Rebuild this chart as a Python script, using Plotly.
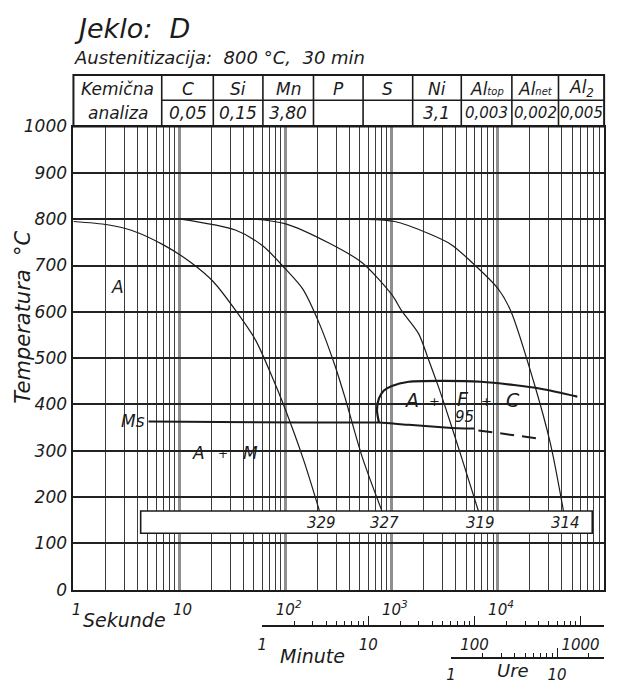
import numpy as np
import plotly.graph_objects as go

W, H = 619, 693
PX_L, PX_R, PX_T, PX_B = 69, 604, 120, 597   # plot area in pixels
DEC = (PX_R - PX_L) / 5.0                     # px per decade

# ---------------- data ----------------
# cooling curves: time (s), temperature (°C)
c1_t = [1, 2.1, 3.5, 7.1, 12.7, 20.8, 34, 52, 76, 94, 147, 208]
c1_T = [795, 788, 776, 744, 707, 665, 602, 539, 455, 403, 281, 170]
c2_t = [10.2, 34, 61, 100, 144, 208, 293, 364, 525, 807]
c2_T = [800, 776, 742, 692, 650, 574, 482, 413, 287, 170]
c3_t = [40, 49, 100, 258, 525, 1000, 1240, 1786, 2215, 2750, 3150, 4520, 6540]
c3_T = [800, 800, 790, 748, 706, 637, 602, 553, 497, 438, 398, 287, 170]
c4_t = [341, 525, 1067, 2218, 3640, 5970, 10000, 13200, 21700, 31300, 41400]
c4_T = [800, 800, 795, 769, 745, 702, 650, 602, 449, 314, 170]
hardness = ["329", "327", "319", "314"]

# Ms line
ms_t = [5.1, 144, 756, 1442, 3410, 5970]
ms_T = [363, 361, 361, 356, 350, 348]
ms_dash_t = [6540, 26900]
ms_dash_T = [344, 325]

# start of A + F + C transformation
afc_t = [756, 724, 756, 841, 1000, 1442, 2933, 6930, 14100, 25200, 55900]
afc_T = [361, 388, 413, 430, 440, 449, 451, 449, 442, 434, 417]

# hardness box extent
box_t = [4.3, 77300]
box_T = [122, 170]

# chemical analysis table
elements = ["C", "Si", "Mn", "P", "S", "Ni",
            "Al<span style='font-size:10px'>top</span>",
            "Al<span style='font-size:10px'>net</span>",
            "Al<sub>2</sub>"]
contents = ["0,05", "0,15", "3,80", "", "", "3,1", "0,003", "0,002", "0,005"]

# axes ticks
temp_ticks = list(range(0, 1001, 100))
sec_ticks = [1, 10, 100, 1000, 10000, 100000]
sec_labels = ["1", "10", "10<sup>2</sup>", "10<sup>3</sup>", "10<sup>4</sup>", "10<sup>5</sup>"]
min_ticks = [1, 10, 100, 1000]
min_labels = ["1", "10", "100", "1000"]
hour_ticks = [1, 10]
hour_labels = ["1", "10"]

# ---------------- styling helpers ----------------
FONT = "DejaVu Sans"
INK = "#1b1b1b"


def fx(px):
    return px / W


def fy(py):
    return 1 - py / H


fig = go.Figure()

thin = dict(color=INK, width=1.2, shape="spline", smoothing=0.8)
for t, T in [(c1_t, c1_T), (c2_t, c2_T), (c3_t, c3_T), (c4_t, c4_T)]:
    fig.add_trace(go.Scatter(x=t, y=T, mode="lines", line=thin,
                             hoverinfo="skip", showlegend=False))

fig.add_trace(go.Scatter(x=ms_t, y=ms_T, mode="lines",
                         line=dict(color=INK, width=2, shape="spline", smoothing=0.6),
                         hoverinfo="skip", showlegend=False))
fig.add_trace(go.Scatter(x=ms_dash_t, y=ms_dash_T, mode="lines",
                         line=dict(color=INK, width=2, dash="14px,8px"),
                         hoverinfo="skip", showlegend=False))
fig.add_trace(go.Scatter(x=afc_t, y=afc_T, mode="lines",
                         line=dict(color=INK, width=2.2, shape="spline", smoothing=0.8),
                         hoverinfo="skip", showlegend=False))

# dummy traces so that the minute / hour scales are drawn
fig.add_trace(go.Scatter(x=[1, 10], y=[None, None], xaxis="x2", yaxis="y",
                         mode="lines", hoverinfo="skip", showlegend=False))
fig.add_trace(go.Scatter(x=[1, 10], y=[None, None], xaxis="x3", yaxis="y",
                         mode="lines", hoverinfo="skip", showlegend=False))

shapes = []
# hardness box (white, covers grid)
shapes.append(dict(type="rect", xref="x", yref="y",
                   x0=box_t[0], x1=box_t[1], y0=box_T[0], y1=box_T[1],
                   fillcolor="white", line=dict(color=INK, width=1.6), layer="above"))

# table
tab_top, tab_mid, tab_bot = 67, 93, 120
col_edges = [69, 158, 210, 260, 311, 361, 411, 460, 511, 558, 604]
shapes.append(dict(type="rect", xref="paper", yref="paper",
                   x0=fx(col_edges[0]), x1=fx(col_edges[-1]), y0=fy(tab_bot), y1=fy(tab_top),
                   line=dict(color=INK, width=2), fillcolor="rgba(0,0,0,0)"))
for xe in col_edges[1:-1]:
    shapes.append(dict(type="line", xref="paper", yref="paper",
                       x0=fx(xe), x1=fx(xe), y0=fy(tab_bot), y1=fy(tab_top),
                       line=dict(color=INK, width=1.6)))
shapes.append(dict(type="line", xref="paper", yref="paper",
                   x0=fx(col_edges[1]), x1=fx(col_edges[-1]), y0=fy(tab_mid), y1=fy(tab_mid),
                   line=dict(color=INK, width=1.6)))

ann = []


def txt(text, x, y, size, xref="paper", yref="paper", xanchor="center", yanchor="middle", angle=0):
    ann.append(dict(text=text, x=x, y=y, xref=xref, yref=yref, showarrow=False,
                    xanchor=xanchor, yanchor=yanchor, textangle=angle,
                    font=dict(family=FONT, size=size, color=INK, style="italic")))


# titles
txt("Jeklo:  D", fx(68), fy(19), 27, xanchor="left")
txt("Austenitizacija:  800 °C,  30 min", fx(68), fy(49), 18, xanchor="left")

# table text
cx0 = (col_edges[0] + col_edges[1]) / 2
txt("Kemična", fx(cx0), fy((tab_top + tab_mid) / 2 + 1), 17)
txt("analiza", fx(cx0), fy((tab_mid + tab_bot) / 2), 17)
for i, (el, val) in enumerate(zip(elements, contents)):
    cx = (col_edges[i + 1] + col_edges[i + 2]) / 2
    txt(el, fx(cx), fy((tab_top + tab_mid) / 2 + 1), 17)
    if val:
        txt(val, fx(cx), fy((tab_mid + tab_bot) / 2), 15 if len(val) > 4 else 17)

# axis titles
txt("Temperatura  °C", fx(18), fy(316), 21, angle=-90)
txt("Sekunde", fx(120), fy(628), 19)
txt("Minute", fx(310), fy(665), 19)
txt("Ure", fx(512), fy(693), 18, yanchor="bottom")

# region labels (data coordinates; log axis -> log10 of time)
txt("A", np.log10(2.58), 654, 17, "x", "y")
txt("Ms", np.log10(4.9), 364, 17, "x", "y", xanchor="right")
txt("A", np.log10(15.1), 296, 17, "x", "y")
txt("+", np.log10(25.8), 293, 12, "x", "y")
txt("M", np.log10(46.1), 296, 17, "x", "y")
txt("A", np.log10(1540), 409, 19, "x", "y")
txt("+", np.log10(2520), 407, 13, "x", "y")
txt("F", np.log10(4710), 411, 19, "x", "y")
txt("+", np.log10(7730), 407, 13, "x", "y")
txt("C", np.log10(13800), 409, 19, "x", "y")
txt("95", np.log10(4800), 373, 15, "x", "y")
for t_end, h in zip([c1_t[-1], c2_t[-1], c3_t[-1], c4_t[-1]], hardness):
    txt(h, np.log10(t_end) + 0.02, 145, 15, "x", "y")

minor_s = [k * 10 ** d for d in range(5) for k in range(2, 10)]
minor_min = [k * 10 ** d for d in range(3) for k in range(2, 10)]
minor_hour = [2, 3, 4, 5, 6, 7, 8, 9, 20]

tickfont = dict(family=FONT, size=15, color=INK, style="italic")

fig.update_layout(
    width=W, height=H, margin=dict(l=0, r=0, t=0, b=0),
    paper_bgcolor="white", plot_bgcolor="rgba(0,0,0,0)",
    font=dict(family=FONT, style="italic", color=INK, size=15),
    showlegend=False,
    shapes=shapes, annotations=ann,
    xaxis=dict(type="log", range=[0, 5], domain=[fx(PX_L), fx(PX_R)], anchor="y",
               tickvals=sec_ticks, ticktext=sec_labels, ticks="",
               showgrid=True, gridcolor="#8f8f8f", gridwidth=3,
               minor=dict(tickvals=minor_s, showgrid=True, gridcolor="#3c3c3c",
                          gridwidth=1, ticks=""),
               showline=True, linecolor=INK, linewidth=2, mirror=True, zeroline=False,
               tickfont=tickfont, ticklabelshift=3, ticklabelstandoff=5),
    yaxis=dict(range=[0, 1000], domain=[fy(PX_B), fy(PX_T)], anchor="x",
               tickvals=temp_ticks, ticks="", showgrid=True, gridcolor="#222222",
               gridwidth=1.6, showline=True, linecolor=INK, linewidth=2, mirror=True,
               zeroline=False, tickfont=dict(family=FONT, size=17, color=INK, style="italic"),
               ticklabelstandoff=1),
    xaxis2=dict(type="log", range=[0, np.log10(1e5 / 60)],
                domain=[fx(PX_L + DEC * np.log10(60)), fx(PX_R)],
                anchor="free", position=fy(634),
                showline=True, linecolor=INK, linewidth=1.6,
                ticks="inside", ticklen=9, tickwidth=1.4, tickcolor=INK,
                tickvals=min_ticks, ticktext=min_labels, showgrid=False, zeroline=False,
                minor=dict(tickvals=minor_min, ticks="inside", ticklen=4,
                           tickwidth=1.2, tickcolor=INK, showgrid=False),
                tickfont=tickfont, ticklabelstandoff=5),
    xaxis3=dict(type="log", range=[0, np.log10(1e5 / 3600)],
                domain=[fx(PX_L + DEC * np.log10(3600)), fx(PX_R)],
                anchor="free", position=fy(667),
                showline=True, linecolor=INK, linewidth=1.6,
                ticks="inside", ticklen=9, tickwidth=1.4, tickcolor=INK,
                tickvals=hour_ticks, ticktext=hour_labels, showgrid=False, zeroline=False,
                minor=dict(tickvals=minor_hour, ticks="inside", ticklen=4,
                           tickwidth=1.2, tickcolor=INK, showgrid=False),
                tickfont=tickfont, ticklabelstandoff=3),
)

fig.write_html("out.html")
